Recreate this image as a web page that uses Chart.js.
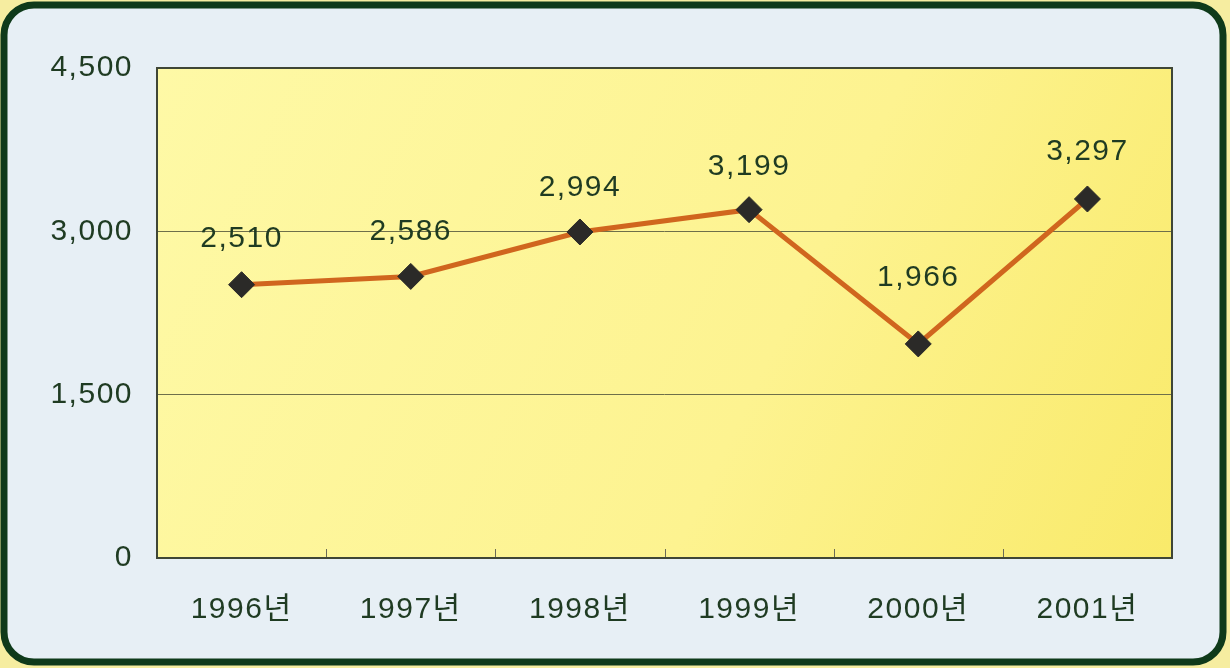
<!DOCTYPE html>
<html>
<head>
<meta charset="utf-8">
<title>연도별 추이</title>
<script src="https://cdn.jsdelivr.net/npm/chart.js@4/dist/chart.umd.min.js"></script>
<style>
    html, body { margin: 0; padding: 0; background: #f6eda0; }
    #wrap { position: relative; width: 1230px; height: 668px; }
</style>
</head>
<body>
<div id="wrap"><canvas id="chart" width="1230" height="668"></canvas></div>
<script>
// data
const years = ['1996년', '1997년', '1998년', '1999년', '2000년', '2001년'];
const values = [2510, 2586, 2994, 3199, 1966, 3297];
const yTicks = [0, 1500, 3000, 4500];

const FONT = "'Liberation Sans', 'Noto Sans CJK KR', sans-serif";
const TEXT = '#1f3b22';
// how far above each marker its value label sits
const labelLift = [46, 45, 44, 43, 66, 47];

// frame, light blue panel and yellow plot area
const backdrop = {
    id: 'backdrop',
    beforeDraw(chart) {
        const { ctx, chartArea: a } = chart;
        ctx.save();
        ctx.fillStyle = '#e7eff5';
        ctx.strokeStyle = '#0f3a1a';
        ctx.lineWidth = 7;
        ctx.beginPath();
        ctx.roundRect(4, 5, 1219, 657, 30);
        ctx.fill();
        ctx.stroke();

        const g = ctx.createLinearGradient(a.left, a.top, a.right, a.bottom);
        g.addColorStop(0, '#fef9a6');
        g.addColorStop(0.6, '#fdf390');
        g.addColorStop(1, '#f9ea6a');
        ctx.fillStyle = g;
        ctx.fillRect(a.left, a.top, a.right - a.left, a.bottom - a.top);
        ctx.restore();
        // the original lettering is a touch wider than Arial
        ctx.letterSpacing = '1.5px';
    },
    afterDatasetsDraw(chart) {
        const { ctx, chartArea: a } = chart;
        ctx.save();
        // small upward ticks between categories
        ctx.strokeStyle = '#6b6b55';
        ctx.lineWidth = 1;
        const step = (a.right - a.left) / years.length;
        for (let i = 1; i < years.length; i++) {
            const px = Math.round(a.left + step * i) + 0.5;
            ctx.beginPath();
            ctx.moveTo(px, a.bottom);
            ctx.lineTo(px, a.bottom - 9);
            ctx.stroke();
        }
        // plot border
        ctx.strokeStyle = '#3f4636';
        ctx.lineWidth = 2;
        ctx.strokeRect(a.left, a.top, a.right - a.left, a.bottom - a.top);

        // value labels
        const meta = chart.getDatasetMeta(0);
        ctx.fillStyle = TEXT;
        ctx.font = '30px ' + FONT;
        ctx.letterSpacing = '1.5px';
        ctx.textAlign = 'center';
        ctx.textBaseline = 'middle';
        meta.data.forEach((pt, i) => {
            ctx.fillText(values[i].toLocaleString('en-US'), pt.x, pt.y - labelLift[i]);
        });
        ctx.restore();
    }
};

new Chart(document.getElementById('chart'), {
    type: 'line',
    data: {
        labels: years,
        datasets: [{
            data: values,
            borderColor: '#d0661e',
            borderWidth: 5,
            tension: 0,
            pointStyle: 'rectRot',
            pointRadius: 13,
            pointBackgroundColor: '#2b2a28',
            pointBorderColor: '#2b2a28',
            pointBorderWidth: 1,
            clip: false
        }]
    },
    options: {
        responsive: false,
        animation: false,
        events: [],
        layout: { padding: { top: 68, right: 58, left: 0, bottom: 0 } },
        plugins: { legend: { display: false }, tooltip: { enabled: false } },
        scales: {
            x: {
                offset: true,
                grid: { display: false },
                border: { display: false },
                ticks: {
                    color: TEXT,
                    font: { family: FONT, size: 30 },
                    padding: 26,
                    maxRotation: 0
                },
                afterFit(scale) { scale.height = 110; }
            },
            y: {
                min: 0,
                max: 4500,
                afterBuildTicks(scale) { scale.ticks = yTicks.map(v => ({ value: v })); },
                grid: {
                    color: '#6e6f4a',
                    lineWidth: 1,
                    drawTicks: false
                },
                border: { display: false },
                ticks: {
                    color: TEXT,
                    font: { family: FONT, size: 30 },
                    padding: 24,
                    callback: v => v.toLocaleString('en-US')
                },
                afterFit(scale) { scale.width = 157; }
            }
        }
    },
    plugins: [backdrop]
});
</script>
</body>
</html>
